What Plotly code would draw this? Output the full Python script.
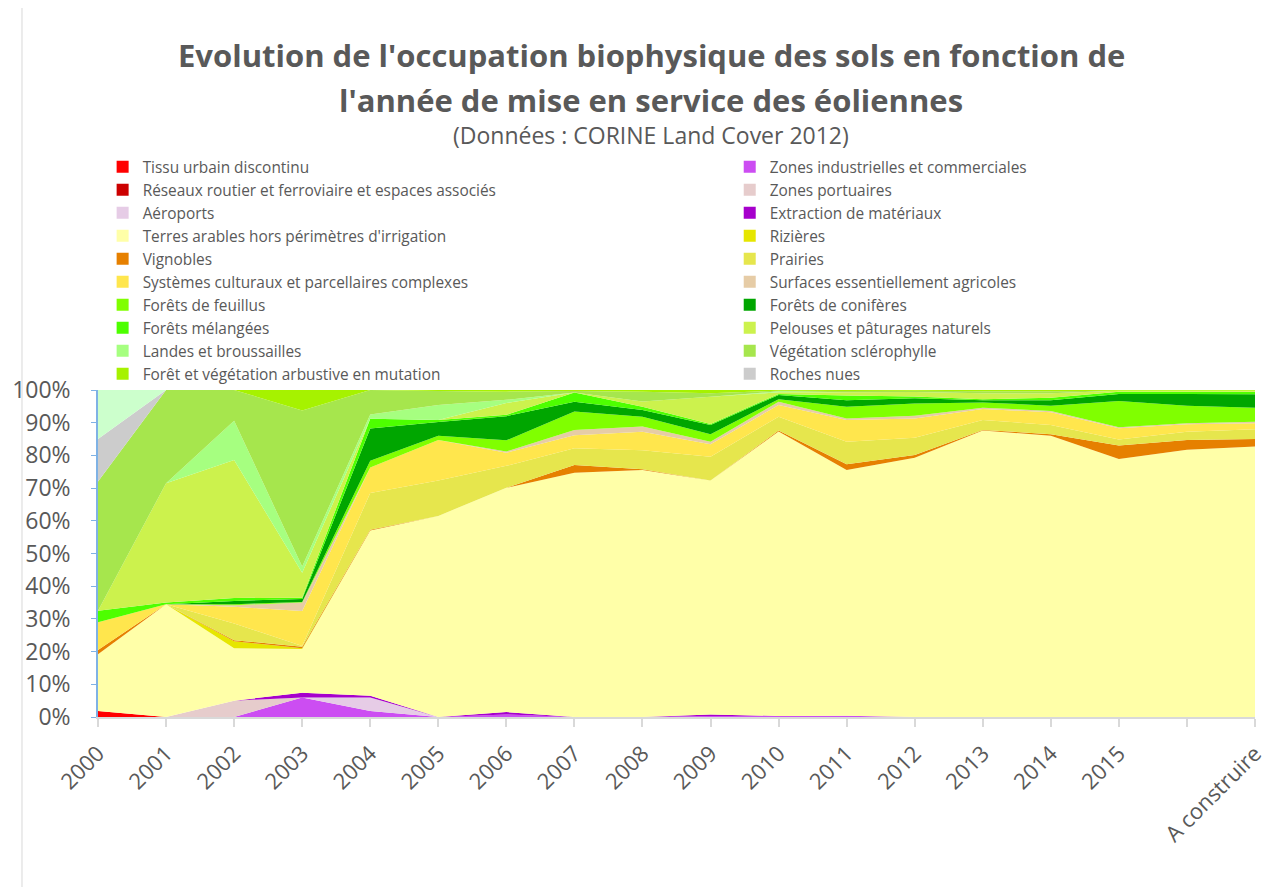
import plotly.graph_objects as go

# categories (x axis)
years = ["2000", "2001", "2002", "2003", "2004", "2005", "2006", "2007", "2008",
         "2009", "2010", "2011", "2012", "2013", "2014", "2015", "", "A construire"]

# share of each land cover class per commissioning year (%), stacked bottom -> top
tissu_urbain = [1.8, 0, 0, 0, 0, 0, 0, 0, 0, 0, 0, 0, 0, 0, 0, 0, 0, 0]
zones_indus = [0, 0, 0, 6.0, 1.8, 0, 0.8, 0, 0, 0.3, 0.3, 0.4, 0, 0, 0, 0, 0, 0]
reseaux = [0, 0, 0, 0, 0, 0, 0, 0, 0, 0, 0, 0, 0, 0, 0, 0, 0, 0]
zones_portuaires = [0, 0, 5.0, 0, 0, 0, 0, 0, 0, 0, 0, 0, 0, 0, 0, 0, 0, 0]
aeroports = [0, 0, 0, 0, 4.2, 0, 0, 0, 0, 0, 0, 0, 0, 0, 0, 0, 0, 0]
extraction = [0, 0, 0, 1.4, 0.5, 0, 0.7, 0, 0, 0.5, 0, 0, 0, 0, 0, 0, 0, 0]
terres_arables = [17.4, 34.5, 16.0, 13.4, 50.5, 61.5, 68.6, 74.7, 75.5, 71.5, 87.0, 75.1, 79.3, 87.6, 86.0, 78.9, 81.7, 82.7]
rizieres = [0, 0, 2.2, 0.2, 0, 0, 0, 0, 0, 0, 0, 0, 0, 0, 0, 0, 0, 0]
vignobles = [1.3, 0, 0.3, 0.5, 0.3, 0, 0, 2.4, 0.3, 0, 0.3, 1.8, 0.8, 0.2, 0.5, 4.1, 3.0, 2.3]
prairies = [0, 0, 5.1, 0.2, 11.2, 10.8, 6.7, 5.1, 5.8, 7.3, 4.2, 6.9, 5.3, 3.0, 2.8, 1.9, 2.5, 3.0]
systemes = [8.5, 0, 5.1, 10.7, 7.8, 12.4, 4.0, 4.0, 5.6, 3.8, 3.6, 6.6, 5.9, 3.4, 3.9, 3.4, 2.3, 1.8]
surf_agricoles = [0, 0, 0.5, 2.6, 0, 0, 0.4, 1.6, 1.6, 0.8, 1.0, 0.5, 0.8, 0.4, 0.4, 0.3, 0.3, 0.5]
feuillus = [0, 0, 0.3, 0.2, 2.1, 1.3, 3.4, 5.6, 3.0, 2.3, 0.8, 3.6, 3.8, 1.6, 1.6, 8.0, 5.4, 4.3]
coniferes = [0, 0, 1.0, 0.9, 9.8, 4.2, 7.4, 3.0, 2.1, 2.8, 1.3, 2.0, 1.6, 0.7, 1.7, 2.2, 3.6, 4.1]
melangees = [3.5, 0.5, 0.9, 0.4, 3.0, 0.6, 0.4, 2.8, 1.0, 0.3, 0.3, 1.4, 0.5, 0.3, 0.7, 0.7, 0.7, 0.8]
pelouses = [0, 36.5, 42.2, 7.6, 0, 0, 3.6, 0, 1.6, 8.3, 0.5, 1.0, 1.4, 1.8, 1.4, 0.3, 0.3, 0.3]
landes = [0, 0, 12.0, 1.9, 1.3, 4.6, 1.0, 0, 0, 0, 0.3, 0, 0, 0, 0, 0, 0, 0]
sclerophylle = [39.5, 28.5, 9.4, 47.7, 7.5, 4.3, 2.5, 0.5, 3.0, 1.1, 0.2, 0.4, 0.4, 0.6, 0.6, 0, 0, 0]
mutation = [0, 0, 0, 6.3, 0, 0.3, 0.5, 0.3, 0.5, 1.0, 0.2, 0.3, 0.2, 0.4, 0.4, 0.2, 0.2, 0.2]
roches = [13.0, 0, 0, 0, 0, 0, 0, 0, 0, 0, 0, 0, 0, 0, 0, 0, 0, 0]
clairsemee = [15.0, 0, 0, 0, 0, 0, 0, 0, 0, 0, 0, 0, 0, 0, 0, 0, 0, 0]

series = [
    ("Tissu urbain discontinu", tissu_urbain, "#FF0000"),
    ("Zones industrielles et commerciales", zones_indus, "#CC4DF2"),
    ("Réseaux routier et ferroviaire et espaces associés", reseaux, "#CC0000"),
    ("Zones portuaires", zones_portuaires, "#E6CCCC"),
    ("Aéroports", aeroports, "#E6CCE6"),
    ("Extraction de matériaux", extraction, "#A600CC"),
    ("Terres arables hors périmètres d'irrigation", terres_arables, "#FFFFA8"),
    ("Rizières", rizieres, "#E6E600"),
    ("Vignobles", vignobles, "#E68000"),
    ("Prairies", prairies, "#E6E64D"),
    ("Systèmes culturaux et parcellaires complexes", systemes, "#FFE64D"),
    ("Surfaces essentiellement agricoles", surf_agricoles, "#E6CCA6"),
    ("Forêts de feuillus", feuillus, "#80FF00"),
    ("Forêts de conifères", coniferes, "#00A600"),
    ("Forêts mélangées", melangees, "#4DFF00"),
    ("Pelouses et pâturages naturels", pelouses, "#CCF24D"),
    ("Landes et broussailles", landes, "#A6FF80"),
    ("Végétation sclérophylle", sclerophylle, "#A6E64D"),
    ("Forêt et végétation arbustive en mutation", mutation, "#A6F200"),
    ("Roches nues", roches, "#CCCCCC"),
    ("Végétation clairsemée", clairsemee, "#CCFFCC"),
]

FONT = "Open Sans"
GREY = "#595959"
x = list(range(len(years)))

fig = go.Figure()
for name, vals, col in series:
    fig.add_trace(go.Scatter(
        x=x, y=vals, name=name, mode="none",
        stackgroup="one", groupnorm="percent",
        fillcolor=col, line=dict(width=0), showlegend=False,
        hovertemplate="%{x}: %{y:.1f}%<extra>" + name + "</extra>",
    ))

# legend entries (square keys, two columns read row by row)
for i, (name, vals, col) in enumerate(series[:20]):
    fig.add_trace(go.Scatter(
        x=[None], y=[None], name=name, mode="markers",
        marker=dict(symbol="square", size=12, color=col),
        legend="legend" if i % 2 == 0 else "legend2",
        hoverinfo="skip",
    ))

# title block
fig.add_annotation(text="<b>Evolution de l'occupation biophysique des sols en fonction de</b>",
                   xref="paper", yref="paper", x=0.478, y=2.024, yanchor="middle", showarrow=False,
                   font=dict(family=FONT, size=31, color=GREY))
fig.add_annotation(text="<b>l'année de mise en service des éoliennes</b>",
                   xref="paper", yref="paper", x=0.478, y=1.887, yanchor="middle", showarrow=False,
                   font=dict(family=FONT, size=31, color=GREY))
fig.add_annotation(text="(Données : CORINE Land Cover 2012)",
                   xref="paper", yref="paper", x=0.478, y=1.78, yanchor="middle", showarrow=False,
                   font=dict(family=FONT, size=23, color=GREY))

# chart border (bottom edge falls outside the window, as in the original)
fig.add_shape(type="rect", xref="paper", yref="paper", x0=-0.0657, x1=1.0216, y0=-0.56, y1=2.19,
              line=dict(color="#D9D9D9", width=1))

leg = dict(orientation="v", traceorder="normal",
           xref="paper", yref="paper", y=1.7335, xanchor="left", yanchor="top",
           font=dict(family=FONT, size=15.4, color=GREY),
           bgcolor="rgba(0,0,0,0)", tracegroupgap=0)

# the page body adds an 8px offset, so margins are trimmed by 8px on the top/left
fig.update_layout(
    width=1282, height=887,
    margin=dict(l=90, r=35, t=382, b=178),
    paper_bgcolor="white", plot_bgcolor="white",
    font=dict(family=FONT, color=GREY),
    showlegend=True,
    legend=dict(leg, x=0.004),
    legend2=dict(leg, x=0.546),
    xaxis=dict(
        range=[0, len(years) - 1], tickmode="array", tickvals=x, ticktext=years,
        tickangle=-45, showgrid=False, zeroline=False, automargin=False,
        showline=True, linecolor="#D9D9D9", linewidth=2,
        ticks="outside", ticklen=8, tickcolor="#D9D9D9", tickwidth=2,
        tickfont=dict(family=FONT, size=22, color=GREY),
        ticklabelstandoff=5,
    ),
    yaxis=dict(
        range=[0, 100], dtick=10, ticksuffix="%", showgrid=False, zeroline=False,
        automargin=False,
        showline=True, linecolor="#7FB2E5", linewidth=1.5,
        ticks="outside", ticklen=5, tickcolor="#7FB2E5",
        tickfont=dict(family=FONT, size=23, color=GREY),
        ticklabelstandoff=16,
    ),
)

fig.write_html("out.html")
